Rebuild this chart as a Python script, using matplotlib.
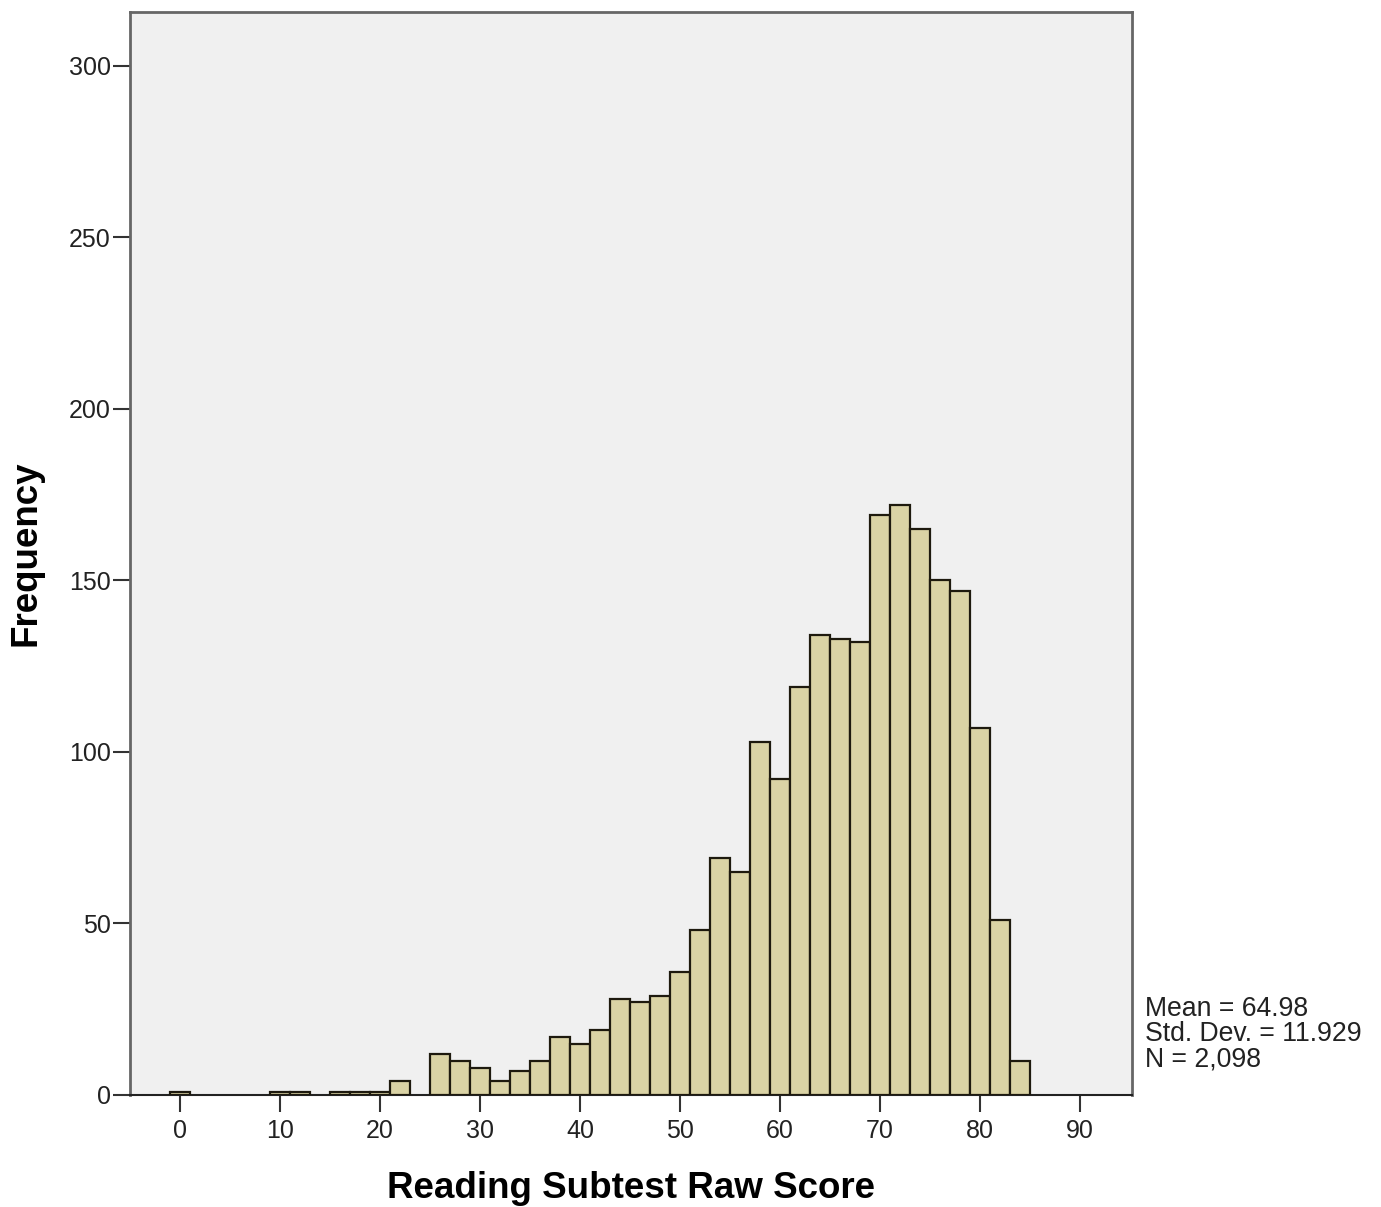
import numpy as np
import matplotlib.pyplot as plt

# bin centres (width 2) and counts for the reading subtest raw scores
bin_centers = [0, 10, 12, 16, 18, 20, 22,
               26, 28, 30, 32, 34, 36, 38, 40, 42, 44, 46, 48, 50, 52,
               54, 56, 58, 60, 62, 64, 66, 68, 70, 72, 74, 76, 78, 80, 82, 84]
counts = [1, 1, 1, 1, 1, 1, 4,
          12, 10, 8, 4, 7, 10, 17, 15, 19, 28, 27, 29, 36, 48,
          69, 65, 103, 92, 119, 134, 133, 132, 169, 172, 165, 150, 147, 107, 51, 10]
bin_width = 2.0

x_ticks = [0, 10, 20, 30, 40, 50, 60, 70, 80, 90]
y_ticks = [0, 50, 100, 150, 200, 250, 300]
stats_text = "Mean = 64.98\nStd. Dev. = 11.929\nN = 2,098"

plt.rcParams['font.family'] = ['Liberation Sans', 'DejaVu Sans']

fig = plt.figure(figsize=(13.81, 12.07), dpi=100)
W, H = 1381, 1207
ax = fig.add_axes([130 / W, 1 - 1095 / H, (1132 - 130) / W, (1095 - 12) / H])
ax.set_facecolor('#F0F0F0')

ax.bar(bin_centers, counts, width=bin_width, color='#DAD3A5',
       edgecolor='#1E1A0E', linewidth=1.6, zorder=3)

ax.set_xlim(-5, 95.2)
ax.set_ylim(0, 315.7)
ax.set_xticks(x_ticks)
ax.set_yticks(y_ticks)
ax.tick_params(axis='both', direction='out', labelsize=18, color='#333333',
               width=1.5, labelcolor='#222222')
ax.tick_params(axis='y', length=12, pad=2)
ax.tick_params(axis='x', length=12.5, pad=5)

for s in ax.spines.values():
    s.set_color('#666666')
    s.set_linewidth(2)
ax.spines['bottom'].set_color('#222222')
ax.spines['bottom'].set_linewidth(1.5)

ax.set_xlabel('Reading Subtest Raw Score', fontsize=26.5, fontweight='bold', labelpad=20)
ax.set_ylabel('Frequency', fontsize=26.5, fontweight='bold', labelpad=18)

fig.text(1145 / W, 1 - 996 / H, stats_text, fontsize=19.2, va='top', ha='left',
         color='#222222', linespacing=0.96)

fig.savefig('out.png', dpi=100, facecolor='white')
